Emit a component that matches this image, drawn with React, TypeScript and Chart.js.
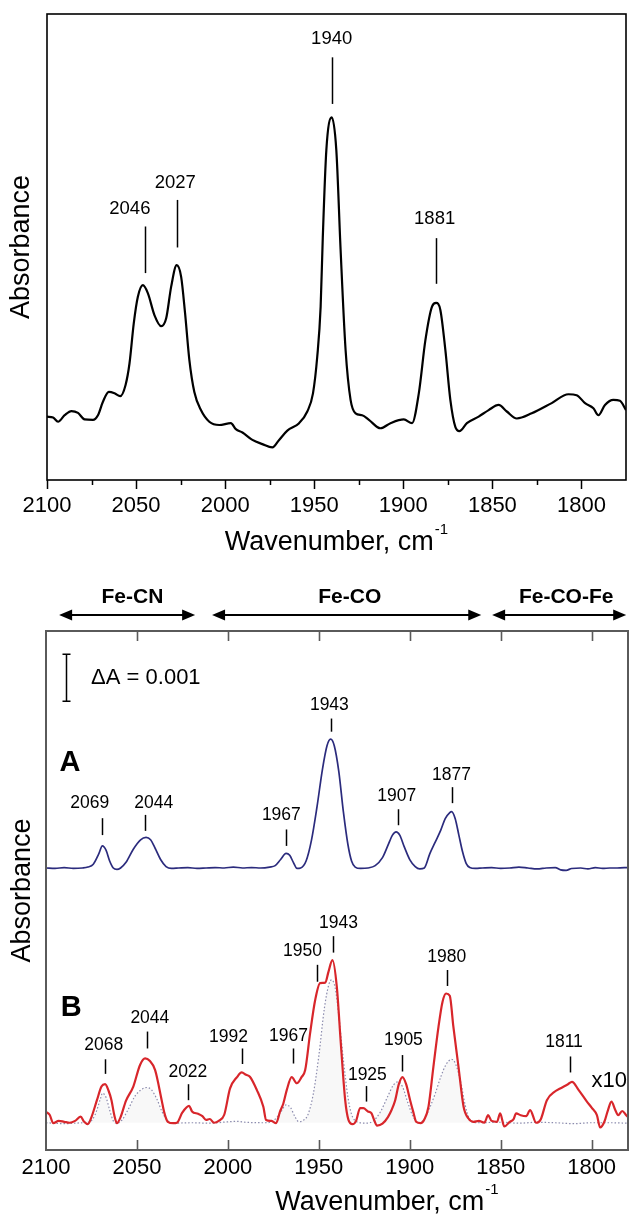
import React, { useEffect, useRef } from "react";
import { Chart, registerables } from "chart.js";

Chart.register(...registerables);

const FONT = "'Liberation Sans', Arial, Helvetica, sans-serif";

// ---------- Top panel: FTIR absorbance spectrum ----------
const topWn = [
  2100, 2096.6, 2093.8, 2090.1, 2086.3, 2082.6, 2078.9, 2074.2, 2071.4, 2068.6,
  2065.3, 2062.1, 2058.9, 2055.9, 2053.7, 2051.3, 2049.0, 2046.2, 2043.4, 2039.7,
  2035.9, 2033.1, 2030.3, 2027.2, 2024.7, 2022.5, 2020.1, 2017.3, 2013.6, 2008.9,
  2003.3, 1996.8, 1994.0, 1990.3, 1984.7, 1979.1, 1973.5, 1969.7, 1965.1, 1958.5,
  1953.9, 1950.7, 1948.3, 1946.4, 1945.2, 1943.2, 1940.2, 1937.6, 1935.2, 1932.4,
  1929.6, 1926.8, 1923.1, 1919.3, 1912.8, 1907.2, 1899.7, 1895.1, 1891.3, 1887.6,
  1883.9, 1881.6, 1879.2, 1876.4, 1873.6, 1870.8, 1868.5, 1864.3, 1857.7, 1852.1,
  1846.5, 1841.9, 1836.3, 1827.9, 1816.7, 1807.3, 1802.7, 1798.0, 1793.3, 1790.5,
  1786.8, 1782.1, 1778.4, 1775,
];
const topAbs = [
  0.136, 0.134, 0.125, 0.139, 0.148, 0.144, 0.130, 0.129, 0.139, 0.168,
  0.189, 0.186, 0.180, 0.204, 0.250, 0.336, 0.393, 0.418, 0.401, 0.354,
  0.330, 0.347, 0.415, 0.461, 0.436, 0.358, 0.258, 0.189, 0.150, 0.125,
  0.118, 0.122, 0.109, 0.102, 0.086, 0.077, 0.070, 0.086, 0.106, 0.122,
  0.147, 0.186, 0.265, 0.372, 0.520, 0.708, 0.778, 0.708, 0.494, 0.279,
  0.172, 0.143, 0.139, 0.129, 0.111, 0.122, 0.130, 0.122, 0.186, 0.300,
  0.372, 0.380, 0.365, 0.279, 0.172, 0.114, 0.105, 0.122, 0.136, 0.150,
  0.161, 0.147, 0.132, 0.143, 0.165, 0.184, 0.182, 0.165, 0.154, 0.139,
  0.161, 0.172, 0.170, 0.150,
];
const topPeakLabels = [
  { text: "2046", tx: 2053.5, ty: 0.581, lx: 2045.1, y1: 0.544, y2: 0.444 },
  { text: "2027", tx: 2028.0, ty: 0.637, lx: 2027.1, y1: 0.601, y2: 0.499 },
  { text: "1940", tx: 1940.2, ty: 0.946, lx: 1940.2, y1: 0.907, y2: 0.807 },
  { text: "1881", tx: 1882.4, ty: 0.560, lx: 1881.6, y1: 0.519, y2: 0.421 },
];

// ---------- Bottom panel: difference spectra (mAbs units) ----------
const aWn = [
  2100, 2095, 2090, 2085, 2080, 2077, 2074, 2071, 2069, 2067, 2065, 2063, 2061, 2059,
  2056, 2052, 2048, 2045, 2042.5, 2040, 2037, 2034, 2031, 2027, 2022, 2017, 2012, 2007,
  2002, 1997, 1992, 1987, 1982, 1977, 1974, 1971, 1968, 1966, 1964, 1962, 1960, 1957,
  1954, 1951, 1948, 1945.5, 1943.5, 1941.5, 1939, 1936.5, 1934, 1932, 1930, 1927, 1923,
  1919, 1915, 1912, 1909.5, 1907.5, 1905.5, 1903, 1900, 1897, 1894.5, 1892, 1889, 1886,
  1883, 1880.5, 1878, 1877, 1875, 1873, 1871, 1869, 1867, 1864, 1860, 1855, 1850, 1845,
  1840, 1835, 1830, 1825, 1820, 1817, 1814, 1811, 1806, 1802, 1798, 1794, 1790, 1786, 1780,
];
const aAbs = [
  6.0, 5.99, 6.01, 5.99, 6.0, 6.02, 6.08, 6.3, 6.47, 6.38, 6.15, 6.0, 5.97, 6.0,
  6.12, 6.4, 6.6, 6.65, 6.6, 6.42, 6.18, 6.03, 5.99, 6.0, 6.01, 5.99, 6.0, 6.01,
  6.0, 6.02, 6.0, 6.01, 6.0, 6.02, 6.05, 6.18, 6.31, 6.27, 6.12, 5.99, 6.0, 6.15,
  6.6, 7.3, 8.1, 8.6, 8.74, 8.6, 8.05, 7.2, 6.5, 6.15, 6.02, 5.99, 6.0,
  6.05, 6.22, 6.48, 6.7, 6.77, 6.7, 6.45, 6.18, 6.03, 5.98, 6.0, 6.3, 6.55,
  6.8, 7.05, 7.18, 7.2, 7.05, 6.7, 6.35, 6.1, 6.01, 5.99, 6.0, 6.01, 5.99, 6.0,
  6.02, 6.0, 5.98, 6.0, 6.01, 5.96, 5.95, 5.99, 6.0, 5.98, 6.01, 5.99, 6.0, 6.0, 6.01,
];

const bWn = [
  2100, 2098, 2096, 2093, 2090, 2087, 2084, 2081, 2079, 2077, 2075, 2072, 2069.5, 2067.5,
  2065.5, 2064, 2062.5, 2061, 2059, 2056, 2052, 2048.3, 2045.5, 2043, 2040, 2036.4, 2035,
  2033, 2030, 2028, 2025, 2021.3, 2019.7, 2016.4, 2014, 2012, 2010, 2007.6, 2005, 2002,
  1998.8, 1995, 1992.4, 1990, 1987.9, 1984.1, 1980.5, 1979, 1976, 1973.5, 1971.3, 1969.5,
  1967.6, 1964.9, 1962.1, 1959.5, 1957.5, 1954.8, 1952, 1949.3, 1946.5, 1944.7, 1942.5,
  1940.1, 1937.9, 1935.5, 1933.7, 1931.5, 1929.5, 1927.3, 1925.5, 1923, 1921, 1919.6, 1918,
  1915, 1912, 1910, 1908, 1906, 1904, 1902, 1899.8, 1898, 1896.5, 1894, 1892, 1889.7, 1887,
  1884.2, 1882, 1880, 1878, 1876, 1873.2, 1870.4, 1867.7, 1865, 1862, 1859, 1856.9, 1855,
  1852, 1850.3, 1848, 1845, 1843, 1841.5, 1839, 1836, 1833.8, 1830.5, 1828, 1824.6, 1820,
  1817.3, 1813, 1810.8, 1807.2, 1802.6, 1800, 1797.1, 1795.3, 1793, 1791, 1789.1, 1787,
  1785.4, 1783.2, 1781, 1780,
];
const bAbs = [
  0.81, 0.75, 0.57, 0.62, 0.6, 0.58, 0.62, 0.71, 0.6, 0.55, 0.7, 1.06, 1.35, 1.4,
  1.25, 1.06, 0.75, 0.57, 0.7, 1.05, 1.35, 1.81, 1.95, 1.9, 1.7, 1.06, 0.8,
  0.6, 0.57, 0.58, 0.8, 0.94, 0.82, 0.77, 0.72, 0.64, 0.66, 0.58, 0.62, 0.75,
  1.31, 1.55, 1.65, 1.6, 1.56, 1.28, 0.92, 0.64, 0.62, 0.57, 0.82, 0.99,
  1.28, 1.55, 1.42, 1.55, 1.7, 2.48, 3.19, 3.55, 3.56, 3.79, 4.04,
  3.47, 2.27, 1.06, 0.64, 0.55, 0.62, 0.89, 0.89, 0.82, 0.78, 0.64, 0.52,
  0.56, 0.7, 0.85, 1.06, 1.4, 1.55, 1.4, 1.06, 0.8, 0.6, 0.57, 0.65, 0.92, 1.77,
  2.62, 3.15, 3.33, 3.28, 2.62, 1.77, 0.92, 0.67, 0.6, 0.62, 0.58, 0.74, 0.62,
  0.6, 0.78, 0.5, 0.6, 0.65, 0.78, 0.74, 0.72, 0.85, 0.58, 0.65, 1.06, 1.25,
  1.31, 1.4, 1.45, 1.28, 1.03, 0.9, 0.74, 0.48, 0.6, 0.85, 1.03, 0.85,
  0.74, 0.83, 0.74, 0.7,
];

const refWn = [
  2100, 2090, 2080, 2076, 2073, 2070, 2069, 2067, 2065, 2063, 2061, 2058, 2055, 2051,
  2047, 2044.5, 2042, 2039, 2036, 2033, 2030, 2020, 2010, 2000, 1995, 1990, 1980, 1975,
  1971, 1968, 1965.5, 1963, 1961, 1959, 1956, 1953, 1950, 1947, 1944.5, 1943, 1941,
  1939, 1936.5, 1934, 1932, 1929, 1924, 1920, 1916, 1912, 1909, 1906.5, 1904, 1901,
  1898, 1895, 1892, 1889, 1886, 1883, 1880, 1877, 1875, 1872, 1869.5, 1867, 1864,
  1850, 1840, 1830, 1820, 1810, 1800, 1790, 1780,
];
const refAbs = [
  0.58, 0.56, 0.58, 0.6, 0.75, 1.1, 1.21, 1.12, 0.85, 0.62, 0.57, 0.65, 0.85, 1.15,
  1.3, 1.33, 1.28, 1.08, 0.8, 0.62, 0.57, 0.58, 0.57, 0.6, 0.61, 0.59, 0.58, 0.62,
  0.8, 0.96, 0.9, 0.7, 0.6, 0.62, 0.75, 1.2, 2.0, 3.0, 3.52, 3.62, 3.45,
  2.86, 1.92, 1.13, 0.76, 0.6, 0.57, 0.62, 0.82, 1.15, 1.38, 1.45, 1.35, 1.0,
  0.7, 0.58, 0.66, 0.9, 1.2, 1.55, 1.82, 1.93, 1.85, 1.45, 0.95, 0.65, 0.58,
  0.59, 0.57, 0.59, 0.58, 0.56, 0.58, 0.58, 0.57,
];
const refBaseline = 0.58;

const aPeakLabels = [
  { text: "2069", tx: 2076.0, ty: 7.38, lx: 2069.3, y1: 7.06, y2: 6.7 },
  { text: "2044", tx: 2040.8, ty: 7.38, lx: 2045.8, y1: 7.13, y2: 6.79 },
  { text: "1967", tx: 1970.6, ty: 7.13, lx: 1968.0, y1: 6.82, y2: 6.47 },
  { text: "1943", tx: 1944.2, ty: 9.47, lx: 1943.2, y1: 9.18, y2: 8.9 },
  { text: "1907", tx: 1907.1, ty: 7.53, lx: 1906.5, y1: 7.25, y2: 6.91 },
  { text: "1877", tx: 1877.1, ty: 7.98, lx: 1876.7, y1: 7.72, y2: 7.38 },
];
const bPeakLabels = [
  { text: "2068", tx: 2068.2, ty: 2.22, lx: 2067.4, y1: 1.93, y2: 1.62 },
  { text: "2044", tx: 2042.9, ty: 2.8, lx: 2044.3, y1: 2.52, y2: 2.16 },
  { text: "2022", tx: 2022.0, ty: 1.65, lx: 2021.7, y1: 1.4, y2: 1.06 },
  { text: "1992", tx: 1999.7, ty: 2.41, lx: 1992.0, y1: 2.16, y2: 1.83 },
  { text: "1967", tx: 1966.7, ty: 2.43, lx: 1964.3, y1: 2.16, y2: 1.84 },
  { text: "1950", tx: 1959.0, ty: 4.22, lx: 1950.8, y1: 3.94, y2: 3.58 },
  { text: "1943", tx: 1939.2, ty: 4.82, lx: 1942.3, y1: 4.55, y2: 4.2 },
  { text: "1925", tx: 1923.3, ty: 1.6, lx: 1924.2, y1: 1.36, y2: 1.03 },
  { text: "1905", tx: 1903.5, ty: 2.33, lx: 1904.0, y1: 2.02, y2: 1.67 },
  { text: "1980", tx: 1879.7, ty: 4.11, lx: 1879.3, y1: 3.83, y2: 3.49 },
  { text: "1811", tx: 1815.2, ty: 2.3, lx: 1811.8, y1: 1.99, y2: 1.65 },
];
const regions = [
  { text: "Fe-CN", from: 2092.8, to: 2018.0, center: 2052.5 },
  { text: "Fe-CO", from: 2008.7, to: 1860.7, center: 1933.0 },
  { text: "Fe-CO-Fe", from: 1854.7, to: 1781.0, center: 1814.0 },
];
const scaleBar = { wn: 2089, from: 9.55, to: 10.55, text: "\u0394A = 0.001", textWn: 2075.2 };
const traceTags = [
  { text: "A", wn: 2086.8, v: 8.23, bold: true },
  { text: "B", wn: 2086.2, v: 3.02, bold: true },
  { text: "x10", wn: 1790.3, v: 1.47, bold: false },
];

const pts = (xs: number[], ys: number[]) => xs.map((x, i) => ({ x, y: ys[i] }));

function drawPeakLabels(chart: any, labels: any[], size: number) {
  const { ctx } = chart;
  const x = chart.scales.x;
  const y = chart.scales.y;
  ctx.save();
  ctx.strokeStyle = "#000";
  ctx.fillStyle = "#000";
  ctx.lineWidth = 1.5;
  ctx.font = `${size}px ${FONT}`;
  ctx.textAlign = "center";
  ctx.textBaseline = "middle";
  for (const l of labels) {
    const lx = Math.round(x.getPixelForValue(l.lx)) + 0.5;
    ctx.beginPath();
    ctx.moveTo(lx, y.getPixelForValue(l.y1));
    ctx.lineTo(lx, y.getPixelForValue(l.y2));
    ctx.stroke();
    ctx.fillText(l.text, x.getPixelForValue(l.tx), y.getPixelForValue(l.ty));
  }
  ctx.restore();
}

function drawWavenumberTitle(chart: any, cx: number, cy: number) {
  const { ctx } = chart;
  ctx.save();
  ctx.fillStyle = "#000";
  const main = "Wavenumber, cm";
  const sup = "-1";
  ctx.font = `27px ${FONT}`;
  const w1 = ctx.measureText(main).width;
  ctx.font = `15px ${FONT}`;
  const w2 = ctx.measureText(sup).width;
  const x0 = cx - (w1 + 1 + w2) / 2;
  ctx.textAlign = "left";
  ctx.textBaseline = "middle";
  ctx.font = `27px ${FONT}`;
  ctx.fillText(main, x0, cy);
  ctx.font = `15px ${FONT}`;
  ctx.fillText(sup, x0 + w1 + 1, cy - 13);
  ctx.restore();
}

const topPlugin = {
  id: "topDecor",
  afterDraw(chart: any) {
    const { ctx, chartArea: a } = chart;
    const x = chart.scales.x;
    ctx.save();
    ctx.strokeStyle = "#000";
    ctx.lineWidth = 1.6;
    ctx.strokeRect(a.left, a.top, a.right - a.left, a.bottom - a.top);
    // minor ticks (outward, short)
    ctx.lineWidth = 1.5;
    for (const t of x.ticks) {
      if (t.value % 50 === 0 || t.value === x.min || t.value === x.max) continue;
      const px = Math.round(x.getPixelForValue(t.value)) + 0.5;
      ctx.beginPath();
      ctx.moveTo(px, a.bottom);
      ctx.lineTo(px, a.bottom + 5);
      ctx.stroke();
    }
    ctx.restore();
    drawPeakLabels(chart, topPeakLabels, 18.5);
    drawWavenumberTitle(chart, (a.left + a.right) / 2, a.bottom + 63);
  },
};

function arrowHead(ctx: any, tipX: number, y: number, dir: number) {
  ctx.beginPath();
  ctx.moveTo(tipX, y);
  ctx.lineTo(tipX + dir * 13, y - 5.5);
  ctx.lineTo(tipX + dir * 13, y + 5.5);
  ctx.closePath();
  ctx.fill();
}

const bottomPlugin = {
  id: "bottomDecor",
  afterDraw(chart: any) {
    const { ctx, chartArea: a } = chart;
    const x = chart.scales.x;
    const y = chart.scales.y;
    ctx.save();
    // frame
    ctx.strokeStyle = "#5a5a5a";
    ctx.lineWidth = 2;
    ctx.strokeRect(a.left, a.top, a.right - a.left, a.bottom - a.top);
    // inward ticks top & bottom
    ctx.lineWidth = 1.6;
    for (const t of x.ticks) {
      if (t.value === x.min || t.value === x.max) continue;
      const px = Math.round(x.getPixelForValue(t.value)) + 0.5;
      ctx.beginPath();
      ctx.moveTo(px, a.bottom);
      ctx.lineTo(px, a.bottom - 10);
      ctx.moveTo(px, a.top);
      ctx.lineTo(px, a.top + 10);
      ctx.stroke();
    }
    // region arrows
    ctx.strokeStyle = "#000";
    ctx.fillStyle = "#000";
    ctx.lineWidth = 2;
    const ay = a.top - 16;
    ctx.font = `bold 21px ${FONT}`;
    ctx.textAlign = "center";
    ctx.textBaseline = "middle";
    for (const r of regions) {
      const x1 = x.getPixelForValue(r.from);
      const x2 = x.getPixelForValue(r.to);
      ctx.beginPath();
      ctx.moveTo(x1 + 8, ay);
      ctx.lineTo(x2 - 8, ay);
      ctx.stroke();
      arrowHead(ctx, x1, ay, 1);
      arrowHead(ctx, x2, ay, -1);
      ctx.fillText(r.text, x.getPixelForValue(r.center), a.top - 34);
    }
    // scale bar
    const sx = Math.round(x.getPixelForValue(scaleBar.wn)) + 0.5;
    const sy1 = y.getPixelForValue(scaleBar.from);
    const sy2 = y.getPixelForValue(scaleBar.to);
    ctx.lineWidth = 1.5;
    ctx.beginPath();
    ctx.moveTo(sx, sy1);
    ctx.lineTo(sx, sy2);
    ctx.moveTo(sx - 4, sy1);
    ctx.lineTo(sx + 4, sy1);
    ctx.moveTo(sx - 4, sy2);
    ctx.lineTo(sx + 4, sy2);
    ctx.stroke();
    ctx.font = `22px ${FONT}`;
    ctx.textAlign = "left";
    ctx.fillText(scaleBar.text, x.getPixelForValue(scaleBar.textWn), y.getPixelForValue((scaleBar.from + scaleBar.to) / 2));
    // trace tags
    ctx.textAlign = "center";
    for (const t of traceTags) {
      ctx.font = t.bold ? `bold 29px ${FONT}` : `22px ${FONT}`;
      ctx.fillText(t.text, x.getPixelForValue(t.wn), y.getPixelForValue(t.v));
    }
    ctx.restore();
    drawPeakLabels(chart, aPeakLabels, 17.5);
    drawPeakLabels(chart, bPeakLabels, 17.5);
    drawWavenumberTitle(chart, (a.left + a.right) / 2 + 50, a.bottom + 53);
  },
};

function TopChart() {
  const ref = useRef<HTMLCanvasElement>(null);
  useEffect(() => {
    const chart = new Chart(ref.current as HTMLCanvasElement, {
      type: "line",
      data: {
        datasets: [
          {
            data: pts(topWn, topAbs),
            borderColor: "#000",
            borderWidth: 2.2,
            pointRadius: 0,
            cubicInterpolationMode: "monotone",
            fill: false,
          },
        ],
      },
      options: {
        animation: false,
        responsive: false,
        maintainAspectRatio: false,
        events: [],
        layout: { padding: { top: 14, right: 3, left: 0, bottom: 0 } },
        plugins: { legend: { display: false }, tooltip: { enabled: false } },
        scales: {
          x: {
            type: "linear",
            reverse: true,
            min: 1775,
            max: 2100,
            afterFit: (s: any) => {
              s.height = 80;
            },
            ticks: {
              stepSize: 25,
              autoSkip: false,
              maxRotation: 0,
              includeBounds: false,
              padding: 4,
              color: "#000",
              font: { size: 22, family: FONT },
              callback: (v: any) => (Number(v) % 50 === 0 ? String(v) : ""),
            },
            grid: {
              display: true,
              drawOnChartArea: false,
              drawTicks: true,
              tickLength: 9,
              tickWidth: 1.5,
              tickColor: (c: any) => (c.tick && c.tick.value % 50 === 0 ? "#000" : "rgba(0,0,0,0)"),
            },
            border: { display: false },
          },
          y: {
            min: 0,
            max: 1,
            afterFit: (s: any) => {
              s.width = 47;
            },
            ticks: { display: false },
            grid: { display: false },
            border: { display: false },
            title: {
              display: true,
              text: "Absorbance",
              color: "#000",
              font: { size: 27, family: FONT },
              padding: { top: 5, bottom: 0 },
            },
          },
        },
      } as any,
      plugins: [topPlugin],
    });
    return () => chart.destroy();
  }, []);
  return (
    <canvas
      ref={ref}
      width={630}
      height={560}
      style={{ position: "absolute", left: 0, top: 0, width: 630, height: 560 }}
    />
  );
}

function BottomChart() {
  const ref = useRef<HTMLCanvasElement>(null);
  useEffect(() => {
    const chart = new Chart(ref.current as HTMLCanvasElement, {
      type: "line",
      data: {
        datasets: [
          {
            label: "B",
            data: pts(bWn, bAbs),
            borderColor: "#d8262b",
            borderWidth: 2.2,
            pointRadius: 0,
            cubicInterpolationMode: "monotone",
            fill: false,
          },
          {
            label: "ref",
            data: pts(refWn, refAbs),
            borderColor: "#8c8cae",
            borderWidth: 1.2,
            borderDash: [1.5, 2],
            pointRadius: 0,
            cubicInterpolationMode: "monotone",
            fill: { value: refBaseline },
            backgroundColor: "rgba(110,110,110,0.05)",
          },
          {
            label: "A",
            data: pts(aWn, aAbs),
            borderColor: "#2b2b7d",
            borderWidth: 1.7,
            pointRadius: 0,
            cubicInterpolationMode: "monotone",
            fill: false,
          },
        ],
      },
      options: {
        animation: false,
        responsive: false,
        maintainAspectRatio: false,
        events: [],
        layout: { padding: { top: 71, right: 2, left: 0, bottom: 0 } },
        plugins: { legend: { display: false }, tooltip: { enabled: false } },
        scales: {
          x: {
            type: "linear",
            reverse: true,
            min: 1780,
            max: 2100,
            afterFit: (s: any) => {
              s.height = 68;
            },
            ticks: {
              stepSize: 50,
              autoSkip: false,
              maxRotation: 0,
              includeBounds: false,
              padding: 5,
              color: "#000",
              font: { size: 22, family: FONT },
              callback: (v: any) => String(v),
            },
            grid: { display: false, drawTicks: false },
            border: { display: false },
          },
          y: {
            min: 0,
            max: 519 / 47,
            afterFit: (s: any) => {
              s.width = 46;
            },
            ticks: { display: false },
            grid: { display: false },
            border: { display: false },
            title: {
              display: true,
              text: "Absorbance",
              color: "#000",
              font: { size: 27, family: FONT },
              padding: { top: 6, bottom: 0 },
            },
          },
        },
      } as any,
      plugins: [bottomPlugin],
    });
    return () => chart.destroy();
  }, []);
  return (
    <canvas
      ref={ref}
      width={630}
      height={658}
      style={{ position: "absolute", left: 0, top: 560, width: 630, height: 658 }}
    />
  );
}

export default function App() {
  return (
    <div
      style={{
        position: "absolute",
        left: 0,
        top: 0,
        width: 630,
        height: 1218,
        background: "#fff",
        overflow: "hidden",
      }}
    >
      <TopChart />
      <BottomChart />
    </div>
  );
}
